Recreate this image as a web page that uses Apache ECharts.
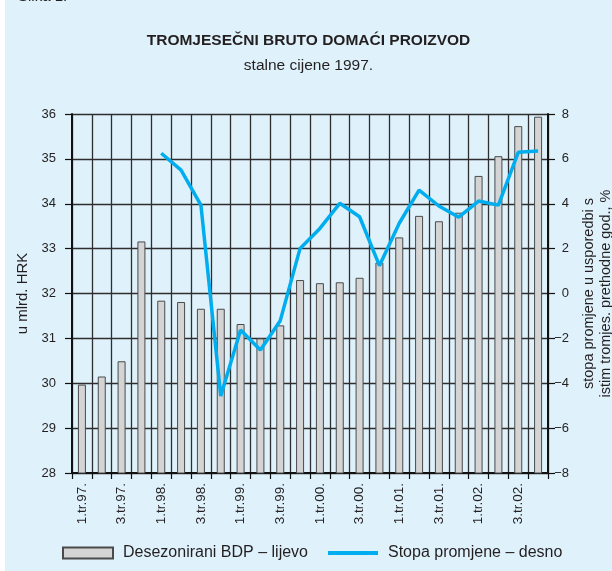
<!DOCTYPE html>
<html>
<head>
<meta charset="utf-8">
<script src="https://cdn.jsdelivr.net/npm/echarts@6/dist/echarts.min.js"></script>
<style>
  html, body { margin: 0; padding: 0; background: #fff; }
  #chart-panel { position: absolute; left: 5px; top: 0; width: 607px; height: 571px; }
</style>
</head>
<body>
<div id="chart-panel"></div>
<script>
var quarters = ['1.tr.97.', '2.tr.97.', '3.tr.97.', '4.tr.97.',
    '1.tr.98.', '2.tr.98.', '3.tr.98.', '4.tr.98.',
    '1.tr.99.', '2.tr.99.', '3.tr.99.', '4.tr.99.',
    '1.tr.00.', '2.tr.00.', '3.tr.00.', '4.tr.00.',
    '1.tr.01.', '2.tr.01.', '3.tr.01.', '4.tr.01.',
    '1.tr.02.', '2.tr.02.', '3.tr.02.', '4.tr.02.']

// desezonirani BDP, mlrd. HRK (lijeva os)
var bdp = [29.97, 30.15, 30.49, 33.16,
    31.84, 31.81, 31.66, 31.66,
    31.32, 31.00, 31.29, 32.30,
    32.23, 32.25, 32.35, 32.69,
    33.25, 33.73, 33.61, 33.80,
    34.62, 35.06, 35.73, 35.94]

// stopa promjene, % (desna os)
var stopa = [null, null, null, null,
    6.25, 5.5, 3.94, -4.57,
    -1.63, -2.52, -1.21, 2.01,
    2.9, 4.02, 3.42, 1.24,
    3.13, 4.61, 3.9, 3.4,
    4.12, 3.94, 6.29, 6.35]

var textColor = '#231f20'
var gridColor = '#2e2e2e'
var fontFamily = '"Liberation Sans", Arial, sans-serif'

var chartOption = {
    backgroundColor: '#dff1fb',
    animation: false,
    textStyle: { fontFamily: fontFamily, color: textColor },
    title: [{
        text: 'TROMJESEČNI BRUTO DOMAĆI PROIZVOD',
        left: 'center',
        top: 28,
        textStyle: { fontSize: 15.5, fontWeight: 'bold', color: textColor, fontFamily: fontFamily }
    }, {
        text: 'stalne cijene 1997.',
        left: 'center',
        top: 53,
        textStyle: { fontSize: 15.5, fontWeight: 'normal', color: textColor, fontFamily: fontFamily }
    }, {
        text: 'Slika 1.',
        left: 8,
        top: -16,
        textStyle: { fontSize: 15, fontWeight: 'normal', color: textColor, fontFamily: fontFamily }
    }],
    legend: {
        left: 52,
        top: 540,
        itemWidth: 50,
        itemHeight: 11,
        itemGap: 18,
        textStyle: { fontSize: 16, color: textColor, fontFamily: fontFamily, padding: [0, 0, 0, 5] },
        data: [{
            name: 'Desezonirani BDP – lijevo',
            icon: 'rect'
        }, {
            name: 'Stopa promjene – desno',
            itemStyle: { opacity: 0 },
            lineStyle: { width: 4, color: '#00aeef' }
        }]
    },
    grid: {
        left: 67,
        right: 64,
        top: 114,
        bottom: 98,
        containLabel: false,
        outerBoundsMode: 'none'
    },
    xAxis: {
        type: 'category',
        data: quarters,
        boundaryGap: true,
        axisLine: { onZero: false, lineStyle: { color: '#111', width: 2 } },
        axisTick: { show: true, interval: 0, length: 6, lineStyle: { color: '#111', width: 1.2 } },
        axisLabel: {
            interval: 1,
            rotate: 90,
            fontSize: 13.5,
            color: textColor,
            margin: 10
        },
        splitLine: { show: true, interval: 0, lineStyle: { color: gridColor, width: 1.3 } }
    },
    yAxis: [{
        type: 'value',
        min: 28,
        max: 36,
        interval: 1,
        name: 'u mlrd. HRK',
        nameLocation: 'middle',
        nameGap: 42,
        nameMoveOverlap: false,
        nameTextStyle: { fontSize: 15, color: textColor },
        axisLine: { show: true, lineStyle: { color: '#111', width: 2 } },
        axisTick: { show: true, length: 7, lineStyle: { color: '#111', width: 1.2 } },
        axisLabel: { fontSize: 13, color: textColor, margin: 16 },
        splitLine: { show: true, lineStyle: { color: gridColor, width: 1.3 } }
    }, {
        type: 'value',
        min: -8,
        max: 8,
        interval: 2,
        position: 'right',
        name: 'stopa promjene u usporedbi s\nistim tromjes. prethodne god., %',
        nameLocation: 'middle',
        nameGap: 32,
        nameMoveOverlap: false,
        nameTextStyle: { fontSize: 14.5, color: textColor, lineHeight: 17 },
        axisLine: { show: true, lineStyle: { color: '#111', width: 2 } },
        axisTick: { show: true, length: 7, lineStyle: { color: '#111', width: 1.2 } },
        axisLabel: {
            fontSize: 13,
            color: textColor,
            margin: 21,
            align: 'right',
            formatter: function (value) {
                return value < 0 ? '\u2212' + Math.abs(value) : value
            }
        },
        splitLine: { show: false }
    }],
    series: [{
        name: 'Desezonirani BDP – lijevo',
        type: 'bar',
        yAxisIndex: 0,
        data: bdp,
        barWidth: 8,
        itemStyle: {
            color: '#d4d4d4',
            borderColor: '#4a4a4a',
            borderWidth: 1
        }
    }, {
        name: 'Stopa promjene – desno',
        type: 'line',
        yAxisIndex: 1,
        data: stopa,
        symbol: 'none',
        connectNulls: false,
        lineStyle: { color: '#00aeef', width: 3.5 },
        itemStyle: { color: '#00aeef' }
    }]
};

var myChart = echarts.init(document.getElementById('chart-panel'));
myChart.setOption(chartOption);
</script>
</body>
</html>
